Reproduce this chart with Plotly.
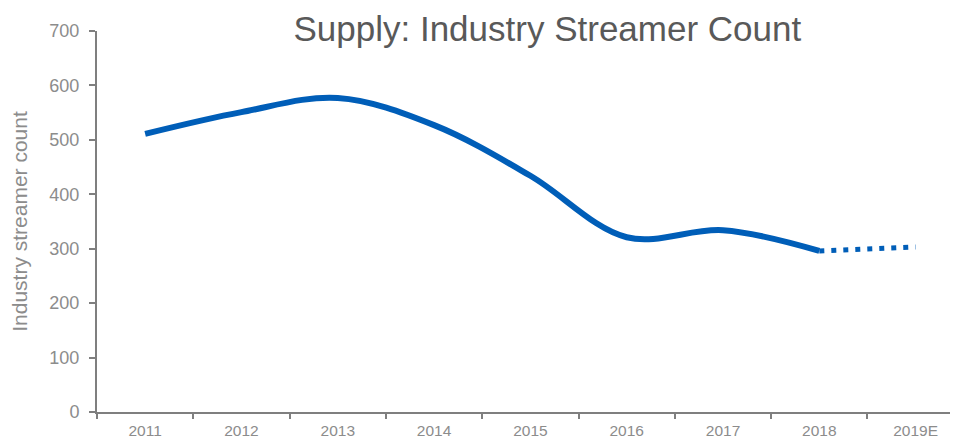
import plotly.graph_objects as go

years = ["2011", "2012", "2013", "2014", "2015", "2016", "2017", "2018", "2019E"]
actual_years = years[:8]
actual_counts = [511, 551, 577, 527, 434, 321, 334, 296]
forecast_years = ["2018", "2019E"]
forecast_counts = [296, 303]

BLUE = "#005EB8"
GREY = "#8C8C8C"
AXIS = "#7F7F7F"

fig = go.Figure()
fig.add_trace(
    go.Scatter(
        x=actual_years,
        y=actual_counts,
        mode="lines",
        line={"color": BLUE, "width": 6, "shape": "spline", "smoothing": 1.0},
        showlegend=False,
    )
)
fig.add_trace(
    go.Scatter(
        x=forecast_years,
        y=forecast_counts,
        mode="lines",
        line={"color": BLUE, "width": 5, "dash": "5px,7px"},
        showlegend=False,
    )
)

# page has an 8px body margin, so the margins are trimmed to line the axes up
fig.update_layout(
    width=958,
    height=439,
    paper_bgcolor="white",
    plot_bgcolor="white",
    font={"family": "Liberation Sans, Arial, sans-serif", "color": GREY},
    margin={"l": 89, "r": 8, "t": 23, "b": 35},
    title={
        "text": "Supply: Industry Streamer Count",
        "x": 0.563,
        "xanchor": "center",
        "y": 1 - 21 / 439,
        "yanchor": "middle",
        "font": {"size": 35, "color": "#595959"},
    },
)
fig.update_xaxes(
    type="category",
    categoryorder="array",
    categoryarray=years,
    range=[-0.5, 8.44],
    showgrid=False,
    showline=True,
    linecolor=AXIS,
    linewidth=2,
    ticks="outside",
    tickson="boundaries",
    ticklen=5,
    tickcolor=AXIS,
    tickwidth=2,
    ticklabelstandoff=3,
    tickfont={"size": 15.5, "color": GREY},
)
fig.update_yaxes(
    range=[0, 700],
    dtick=100,
    showgrid=False,
    zeroline=False,
    showline=True,
    linecolor=AXIS,
    linewidth=2,
    ticks="outside",
    ticklen=6,
    tickcolor=AXIS,
    tickwidth=2,
    ticklabelstandoff=6,
    tickfont={"size": 18, "color": GREY},
    title={"text": "Industry streamer count", "font": {"size": 21, "color": GREY}, "standoff": 18},
)

fig.write_html("out.html")
